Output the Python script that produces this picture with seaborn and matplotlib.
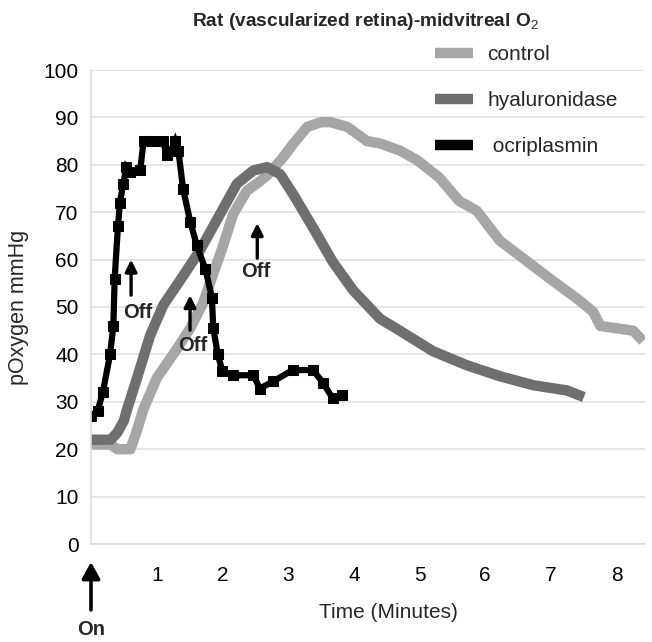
import matplotlib
matplotlib.use("Agg")
import matplotlib.pyplot as plt
from matplotlib.lines import Line2D
import seaborn as sns
import pandas as pd

# ---- data ----
control_t = [0, 0.3, 0.4, 0.6, 0.7, 0.8, 1.0, 1.25, 1.51, 1.71, 1.86, 2.0, 2.16, 2.37, 2.55, 2.68,
             2.92, 3.07, 3.29, 3.5, 3.64, 3.9, 4.2, 4.4, 4.7, 4.96, 5.3, 5.6, 5.87, 6.22,
             6.63, 7.03, 7.44, 7.64, 7.75, 8.0, 8.25, 8.4]
control_o2 = [21, 21, 20, 20, 24, 28.5, 35, 40, 45.5, 51, 57, 62.5, 69.5, 74.5, 76.3, 77.8,
              81.5, 84.3, 88, 89, 89, 88, 85, 84.5, 83, 81, 77.3, 72.4, 70.3, 64,
              59.7, 55.5, 51.3, 49, 46, 45.5, 45, 42.8]

hyal_t = [0, 0.3, 0.4, 0.5, 0.54, 0.7, 0.9, 1.1, 1.35, 1.66, 1.96, 2.22, 2.47, 2.68, 2.88,
          3.08, 3.38, 3.68, 3.99, 4.4, 4.7, 5.2, 5.72, 6.22, 6.73, 7.24, 7.5]
hyal_o2 = [22, 22, 23.5, 26, 28, 35, 44, 50.4, 55.5, 62, 69.5, 76, 78.8, 79.5, 78,
           73.7, 66.7, 59.5, 53.5, 47.5, 45, 40.7, 37.7, 35.4, 33.5, 32.4, 31]

ocri_t = [0, 0.1, 0.18, 0.29, 0.34, 0.36, 0.41, 0.44, 0.49, 0.54, 0.6, 0.75, 0.8, 0.95,
          1.1, 1.15, 1.22, 1.28, 1.33, 1.4, 1.51, 1.61, 1.74, 1.84, 1.86, 1.93, 2.0,
          2.16, 2.47, 2.57, 2.77, 3.07, 3.38, 3.53, 3.68, 3.82]
ocri_o2 = [27, 28, 32, 40, 46, 56, 67, 72, 76, 79.5, 78.5, 79, 85, 85,
           85, 82, 83, 85, 83, 75, 68, 63, 58, 52, 45.5, 40, 36.4,
           35.6, 35.6, 32.8, 34.3, 36.7, 36.7, 34, 30.7, 31.4]

series_names = ["control", "hyaluronidase", " ocriplasmin"]
series_colors = ["#a6a6a6", "#6f6f6f", "#000000"]
x_ticks = [0, 1, 2, 3, 4, 5, 6, 7, 8]
x_ticklabels = ["", "1", "2", "3", "4", "5", "6", "7", "8"]
y_ticks = [0, 10, 20, 30, 40, 50, 60, 70, 80, 90, 100]

sns.set_style("white")
plt.rcParams["font.family"] = ["Liberation Sans", "DejaVu Sans"]
plt.rcParams["mathtext.fontset"] = "custom"
plt.rcParams["mathtext.rm"] = "Liberation Sans"
plt.rcParams["mathtext.it"] = "Liberation Sans"
plt.rcParams["mathtext.bf"] = "Liberation Sans:bold"

fig = plt.figure(figsize=(6.52, 6.42), dpi=100)
ax = fig.add_axes([91 / 652, 98 / 642, 554 / 652, 474 / 642])

df_c = pd.DataFrame({"t": control_t, "o2": control_o2})
df_h = pd.DataFrame({"t": hyal_t, "o2": hyal_o2})
df_o = pd.DataFrame({"t": ocri_t, "o2": ocri_o2})

sns.lineplot(data=df_c, x="t", y="o2", ax=ax, color=series_colors[0], lw=7.5,
             sort=False, solid_joinstyle="round", solid_capstyle="butt")
sns.lineplot(data=df_h, x="t", y="o2", ax=ax, color=series_colors[1], lw=7.5,
             sort=False, solid_joinstyle="round", solid_capstyle="butt")
sns.lineplot(data=df_o, x="t", y="o2", ax=ax, color=series_colors[2], lw=4.5,
             sort=False, marker="s", markersize=6.5, markeredgecolor="black",
             solid_joinstyle="miter")

ax.set_xlim(0, 8.43)
ax.set_ylim(0, 100)
ax.set_xticks(x_ticks)
ax.set_xticklabels(x_ticklabels)
ax.set_yticks(y_ticks)
ax.yaxis.grid(True, color="#e0e0e0", lw=1.2)
ax.xaxis.grid(False)
for s in ["top", "right"]:
    ax.spines[s].set_visible(False)
for s in ["left", "bottom"]:
    ax.spines[s].set_color("#dcdcdc")
    ax.spines[s].set_linewidth(1.2)
ax.tick_params(axis="both", labelsize=15, colors="#dcdcdc", labelcolor="black",
               length=5, width=1.2)
ax.tick_params(axis="x", pad=11)
ax.tick_params(axis="y", pad=4)
ax.set_axisbelow(True)

ax.set_xlabel("Time (Minutes)", fontsize=15)
ax.xaxis.set_label_coords((388 - 91) / 554, -(612 - 544) / 474)
ax.xaxis.label.set_va("center")
ax.set_ylabel("pOxygen mmHg", fontsize=15.5, labelpad=10)

fig.text(0.56, 1 - 21 / 642, "Rat (vascularized retina)-midvitreal O$_2$", ha="center",
         va="center", fontsize=13.8, fontweight="bold")

handles = [Line2D([0], [0], color=c, lw=7.5, solid_capstyle="butt") for c in series_colors]
fig.legend(handles, series_names, loc="upper left", bbox_to_anchor=(435 / 652, 1 - 45 / 642),
           frameon=False, fontsize=15, handlelength=1.8, handletextpad=0.7,
           labelspacing=1.3, borderpad=0, borderaxespad=0)

arrow_kw = dict(arrowstyle="-|>,head_width=0.35,head_length=0.7", lw=2.4, color="black",
                shrinkA=0, shrinkB=0)
off_arrows = [((0.61, 52.5), (0.61, 60.0), (0.715, 48.9)),
              ((1.507, 45.1), (1.507, 52.5), (1.542, 41.8)),
              ((2.53, 60.3), (2.53, 67.7), (2.50, 57.4))]
for tail, tip, txt in off_arrows:
    ax.annotate("", xy=tip, xytext=tail, arrowprops=arrow_kw, annotation_clip=False)
    ax.text(txt[0], txt[1], "Off", ha="center", va="center", fontsize=14.5, fontweight="bold")

on_kw = dict(arrowstyle="-|>,head_width=0.55,head_length=1.0", lw=2.6, color="black",
             shrinkA=0, shrinkB=0)
ax.annotate("", xy=(0, -3.8), xytext=(0, -13.9), arrowprops=on_kw, annotation_clip=False)
ax.text(0, -18.1, "On", ha="center", va="center", fontsize=14.5, fontweight="bold", clip_on=False)

fig.savefig("out.png", dpi=100)
